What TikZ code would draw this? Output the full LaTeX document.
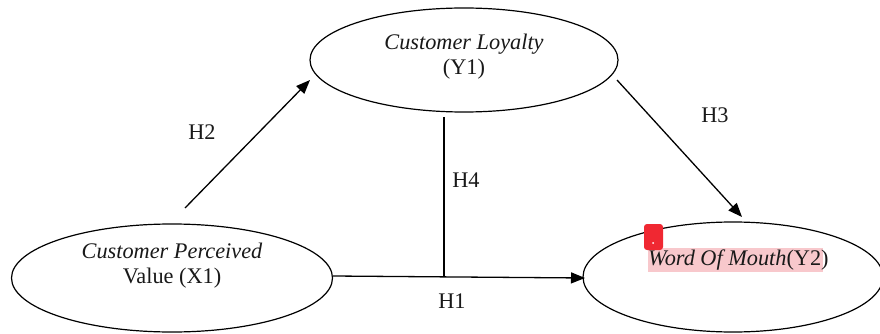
\documentclass[tikz,border=0pt]{standalone}
\usepackage{fontspec}
\setmainfont{Liberation Serif}
\usetikzlibrary{arrows.meta,shapes.geometric}
\definecolor{hl}{RGB}{248,200,204}
\definecolor{redmark}{RGB}{240,40,50}
\begin{document}
\begin{tikzpicture}[x=1pt,y=-1pt,
  every node/.style={font=\fontsize{22.3}{27}\selectfont, text=black!90},
  ell/.style={draw, line width=1.2pt, ellipse, minimum width=#1, inner sep=0pt},
  conn/.style={line width=1.3pt},
  arr/.style={conn, -{Triangle[length=14pt,width=11pt]}},
  lbl/.style={inner sep=0pt}]
\useasboundingbox (0,0) rectangle (880,334);
\clip (0,0) rectangle (880,334);
\fill[white] (0,0) rectangle (880,334);
% ellipses
\node[ell=308pt, minimum height=104pt] (cl) at (464,60) {};
\node[ell=321pt, minimum height=108pt] (cpv) at (172,278) {};
\node[ell=300pt, minimum height=110pt] (wom) at (733,277) {};
% texts
\node[lbl, anchor=base] (clt1) at (464,50) {\itshape Customer Loyalty};
\node[lbl, anchor=base] (clt2) at (464,75) {(Y1)};
\node[lbl, anchor=base] (cpt1) at (172,258) {\itshape Customer Perceived};
\node[lbl, anchor=base] (cpt2) at (172,283) {Value (X1)};
\fill[hl] (648,248) rectangle (823,272);
\node[lbl, anchor=base west] (womt) at (648,265) {\itshape Word Of Mouth\upshape(Y2)};
\fill[redmark, rounded corners=3pt] (644,224) rectangle (663,250);
\fill[white] (653,243) circle (1pt);
% connectors
\coordinate (h2s) at (185,208);
\coordinate (h2e) at (310,80);
\coordinate (h3s) at (617,80);
\coordinate (h3e) at (742,217);
\coordinate (h4s) at (444,117);
\coordinate (h4e) at (444,277);
\coordinate (h1s) at (333,276);
\coordinate (h1e) at (585,278);
\draw[arr] (h2s) -- (h2e);
\draw[arr] (h3s) -- (h3e);
\draw[conn] (h4s) -- (h4e);
\draw[arr] (h1s) -- (h1e);
% labels
\node[lbl] (h2) at (202,132) {H2};
\node[lbl] (h3) at (715,115) {H3};
\node[lbl] (h4) at (466,180) {H4};
\node[lbl] (h1) at (452,301) {H1};
\end{tikzpicture}
\end{document}
